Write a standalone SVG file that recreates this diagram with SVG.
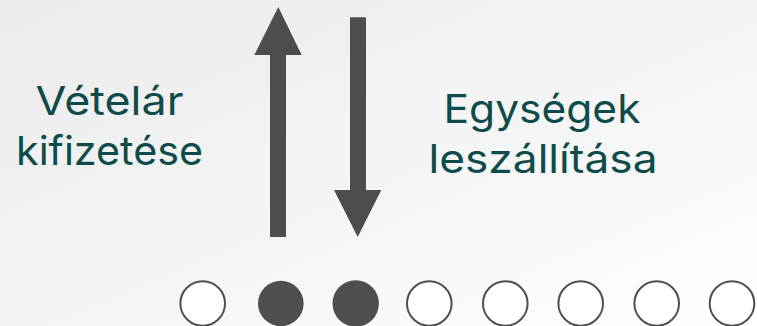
<svg xmlns="http://www.w3.org/2000/svg" width="757" height="326" viewBox="0 0 757 326">
  <defs>
    <linearGradient id="bg" x1="0" y1="0" x2="1" y2="1">
      <stop offset="0" stop-color="#ebebeb"/>
      <stop offset="0.6" stop-color="#f6f6f6"/>
      <stop offset="1" stop-color="#ffffff"/>
    </linearGradient>
  </defs>
  <style>
    .lbl { font-family: Inter, "Open Sans", "DejaVu Sans", sans-serif; font-size: 40px; fill: #0e4b4b; text-anchor: middle; }
    .arrow { fill: #4d4d4d; }
    .dot-empty { fill: #ffffff; stroke: #4f4f4f; stroke-width: 2; }
    .dot-full { fill: #4f4f4f; }
  </style>
  <rect x="0" y="0" width="757" height="326" fill="url(#bg)"/>

  <g id="label-vetelar">
    <text class="lbl" x="109.5" y="115" textLength="148" lengthAdjust="spacingAndGlyphs">Vételár</text>
    <text class="lbl" x="109.5" y="165" textLength="187" lengthAdjust="spacingAndGlyphs">kifizetése</text>
  </g>
  <g id="label-egysegek">
    <text class="lbl" x="542" y="123" textLength="197" lengthAdjust="spacingAndGlyphs">Egységek</text>
    <text class="lbl" x="543" y="173" textLength="229" lengthAdjust="spacingAndGlyphs">leszállítása</text>
  </g>

  <g id="connectors">
    <polygon class="arrow" points="278.3,7 301.7,55 286,55 286,237 270,237 270,55 254.3,55"/>
    <polygon class="arrow" points="350,17.3 366,17.3 366,190 381.3,190 357.7,237 334,190 350,190"/>
  </g>

  <g id="dots">
    <g id="dot-1"><circle class="dot-empty" cx="202.7" cy="303.5" r="22.3"/></g>
    <g id="dot-2"><circle class="dot-full" cx="280.8" cy="303.5" r="22.8"/></g>
    <g id="dot-3"><circle class="dot-full" cx="355.7" cy="303.5" r="23.2"/></g>
    <g id="dot-4"><circle class="dot-empty" cx="429.3" cy="303.5" r="22.3"/></g>
    <g id="dot-5"><circle class="dot-empty" cx="505.3" cy="303.5" r="22.3"/></g>
    <g id="dot-6"><circle class="dot-empty" cx="580.7" cy="303.5" r="22.3"/></g>
    <g id="dot-7"><circle class="dot-empty" cx="656.7" cy="303.5" r="22.3"/></g>
    <g id="dot-8"><circle class="dot-empty" cx="732" cy="303.5" r="22.3"/></g>
  </g>
</svg>
